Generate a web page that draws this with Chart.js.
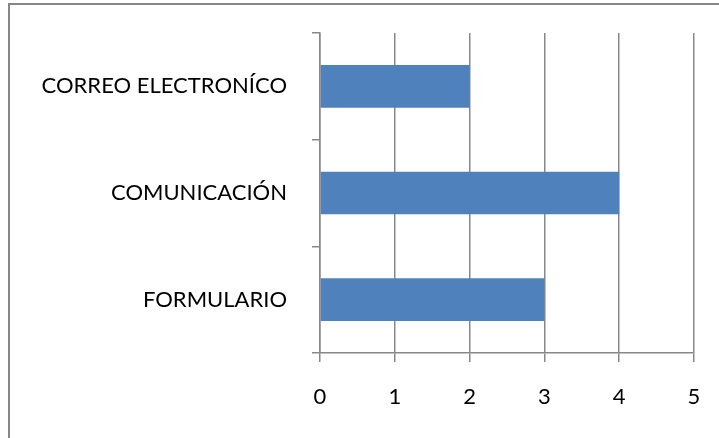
<!DOCTYPE html>
<html>
<head>
<meta charset="utf-8">
<script src="https://cdn.jsdelivr.net/npm/chart.js@4"></script>
<style>
  html, body { margin: 0; padding: 0; background: #fff; overflow: hidden; }
  #wrap { position: absolute; left: 0; top: 0; width: 719px; height: 438px; }
  #frame { position: absolute; left: 8px; top: 3px; width: 900px; height: 700px; border: 2px solid #878787; box-sizing: border-box; }
  canvas { position: absolute; left: 0; top: 0; }
</style>
</head>
<body>
<div id="wrap">
  <div id="frame"></div>
  <canvas id="c" width="719" height="438"></canvas>
</div>
<script>
const categories = ["CORREO ELECTRONÍCO", "COMUNICACIÓN", "FORMULARIO"];
const values = [2, 4, 3];
const xTicks = [0, 1, 2, 3, 4, 5];

const gridColor = "#888888";
const fontFamily = "Lato, 'Open Sans', sans-serif";

new Chart(document.getElementById("c"), {
  type: "bar",
  data: {
    labels: categories,
    datasets: [{
      data: values,
      backgroundColor: "#4F81BD",
      borderWidth: 0,
      categoryPercentage: 1,
      barPercentage: 0.4
    }]
  },
  options: {
    indexAxis: "y",
    responsive: false,
    animation: false,
    devicePixelRatio: 1,
    layout: { padding: { top: 33, right: 25, left: 0, bottom: 0 } },
    plugins: { legend: { display: false }, tooltip: { enabled: false } },
    scales: {
      x: {
        min: xTicks[0],
        max: xTicks[xTicks.length - 1],
        afterBuildTicks: (s) => { s.ticks = xTicks.map(v => ({ value: v })); },
        ticks: { color: "#000", font: { family: fontFamily, size: 22 }, padding: 22 },
        grid: { color: gridColor, lineWidth: 1.5, drawOnChartArea: true, drawTicks: true, tickLength: 9, tickColor: gridColor },
        border: { display: true, color: gridColor, width: 1.5 },
        afterFit: (s) => { s.height = 438 - 353; s.paddingLeft = 0; s.paddingRight = 0; }
      },
      y: {
        offset: true,
        ticks: { color: "#000", font: { family: fontFamily, size: 22 }, padding: 25 },
        grid: { offset: true, drawOnChartArea: false, drawTicks: true, tickLength: 8, color: gridColor, lineWidth: 1.5 },
        border: { display: true, color: gridColor, width: 1.5 },
        afterFit: (s) => { s.width = 320; s.paddingTop = 0; s.paddingBottom = 0; }
      }
    }
  }
});
</script>
</body>
</html>
